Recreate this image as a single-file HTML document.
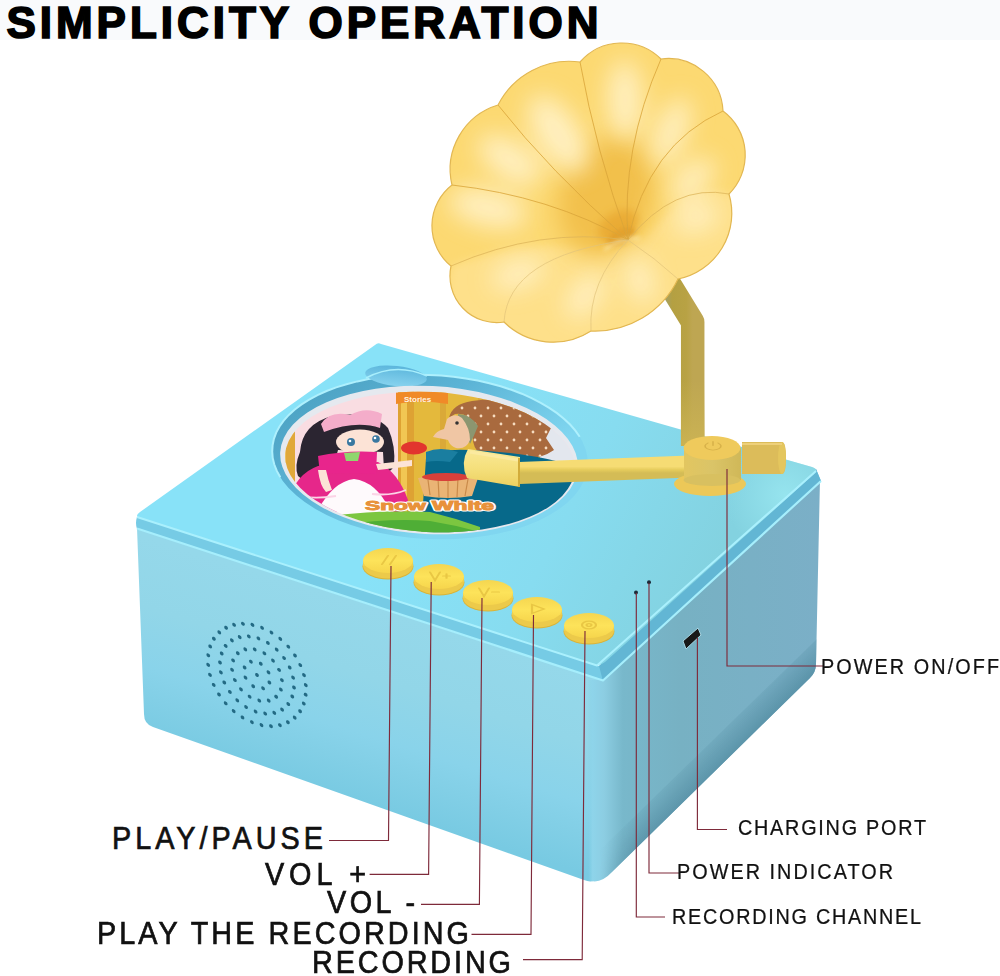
<!DOCTYPE html>
<html><head><meta charset="utf-8"><style>
html,body{margin:0;padding:0;background:#fff;}
body{width:1000px;height:976px;overflow:hidden;position:relative;font-family:"Liberation Sans",sans-serif;}
svg{position:absolute;left:0;top:0;}
</style></head><body>
<svg width="1000" height="976" viewBox="0 0 1000 976">
<defs>
 <radialGradient id="hornG" cx="600" cy="200" r="190" gradientUnits="userSpaceOnUse">
  <stop offset="0" stop-color="#eab23a"/>
  <stop offset="0.3" stop-color="#f4c650"/>
  <stop offset="0.7" stop-color="#f8d769"/>
  <stop offset="1" stop-color="#f7d464"/>
 </radialGradient>
 <radialGradient id="lipG" cx="610" cy="285" r="130" gradientUnits="userSpaceOnUse">
  <stop offset="0" stop-color="#fdf0c2"/>
  <stop offset="0.45" stop-color="#fbe5a0"/>
  <stop offset="0.8" stop-color="#f8d875"/>
  <stop offset="1" stop-color="#f7d466"/>
 </radialGradient>
 <radialGradient id="hiG" cx="0.5" cy="0.5" r="0.5">
  <stop offset="0" stop-color="#fff6d4" stop-opacity="0.9"/>
  <stop offset="1" stop-color="#fff6d4" stop-opacity="0"/>
 </radialGradient>
 <linearGradient id="topG" x1="420" y1="470" x2="690" y2="610" gradientUnits="userSpaceOnUse">
  <stop offset="0" stop-color="#88e2f8"/>
  <stop offset="0.5" stop-color="#87dcf0"/>
  <stop offset="1" stop-color="#83d2e0"/>
 </linearGradient>
 <radialGradient id="topHi" cx="785" cy="495" r="60" gradientUnits="userSpaceOnUse">
  <stop offset="0" stop-color="#96e4ee"/>
  <stop offset="1" stop-color="#96e4ee" stop-opacity="0"/>
 </radialGradient>
 <linearGradient id="frontG" x1="0" y1="492" x2="0" y2="692" gradientUnits="userSpaceOnUse" gradientTransform="skewY(17.22)">
  <stop offset="0" stop-color="#95d8ea"/>
  <stop offset="0.35" stop-color="#92d6e8"/>
  <stop offset="0.65" stop-color="#89d3ea"/>
  <stop offset="0.8" stop-color="#82cfe6"/>
  <stop offset="1" stop-color="#78cae2"/>
 </linearGradient>
 <linearGradient id="rightG" x1="588" y1="0" x2="820" y2="0" gradientUnits="userSpaceOnUse">
  <stop offset="0" stop-color="#86cfe6" stop-opacity="0"/>
  <stop offset="0.02" stop-color="#8ed4ea"/>
  <stop offset="0.07" stop-color="#8ccde2"/>
  <stop offset="0.15" stop-color="#78b8cb"/>
  <stop offset="0.4" stop-color="#77b1c3"/>
  <stop offset="1" stop-color="#7bafc7"/>
 </linearGradient>
 <linearGradient id="btnG" x1="0" y1="0" x2="0" y2="1">
  <stop offset="0" stop-color="#f5d650"/>
  <stop offset="0.5" stop-color="#fde35a"/>
  <stop offset="1" stop-color="#f6d54c"/>
 </linearGradient>
 <linearGradient id="armG" x1="0" y1="0" x2="0" y2="1">
  <stop offset="0" stop-color="#f6dc74"/>
  <stop offset="0.5" stop-color="#e6cc5c"/>
  <stop offset="1" stop-color="#d4bc56"/>
 </linearGradient>
 <linearGradient id="headG" x1="0" y1="449" x2="0" y2="487" gradientUnits="userSpaceOnUse">
  <stop offset="0" stop-color="#f9e896"/>
  <stop offset="0.5" stop-color="#f5e07c"/>
  <stop offset="1" stop-color="#ecd060"/>
 </linearGradient>
 <linearGradient id="stemG" x1="0" y1="0" x2="1" y2="0">
  <stop offset="0" stop-color="#a8a05c"/>
  <stop offset="0.2" stop-color="#b4a042"/>
  <stop offset="0.75" stop-color="#b8a244"/>
  <stop offset="1" stop-color="#bea652"/>
 </linearGradient>
 <linearGradient id="stemV" x1="0" y1="380" x2="0" y2="446" gradientUnits="userSpaceOnUse">
  <stop offset="0" stop-color="#cab452" stop-opacity="0"/>
  <stop offset="1" stop-color="#cdb454" stop-opacity="0.9"/>
 </linearGradient>
 <linearGradient id="cylG" x1="0" y1="0" x2="1" y2="0">
  <stop offset="0" stop-color="#e2c660"/>
  <stop offset="0.5" stop-color="#dac468"/>
  <stop offset="1" stop-color="#d0b858"/>
 </linearGradient>
 <linearGradient id="recG" x1="300" y1="380" x2="420" y2="540" gradientUnits="userSpaceOnUse">
  <stop offset="0" stop-color="#4a9fc0"/>
  <stop offset="0.5" stop-color="#5cb4d6"/>
  <stop offset="1" stop-color="#80d6f0"/>
 </linearGradient>
 <linearGradient id="notchG" x1="0" y1="0" x2="0" y2="1">
  <stop offset="0" stop-color="#5cb6dc"/>
  <stop offset="1" stop-color="#86d2ee"/>
 </linearGradient>
 <clipPath id="rfClip"><path d="M588,676 L604,676 L820,478 L816,664 Q816,672 810,678 L612,872 Q600,885 588,880 Z"/></clipPath>
 <linearGradient id="rbShadow" x1="708" y1="777" x2="687" y2="756" gradientUnits="userSpaceOnUse">
  <stop offset="0" stop-color="#5a93a8" stop-opacity="0.9"/>
  <stop offset="1" stop-color="#5a93a8" stop-opacity="0"/>
 </linearGradient>
 <linearGradient id="rbMaskG" x1="600" y1="0" x2="640" y2="0" gradientUnits="userSpaceOnUse">
  <stop offset="0" stop-color="#fff" stop-opacity="0"/>
  <stop offset="1" stop-color="#fff" stop-opacity="1"/>
 </linearGradient>
 <mask id="rbMask" maskUnits="userSpaceOnUse" x="0" y="0" width="1000" height="976"><rect x="0" y="0" width="1000" height="976" fill="url(#rbMaskG)"/></mask>
 <clipPath id="hornClip"><path d="M580,62 A55.7,55.7 0 0,1 661,59 A54.9,54.9 0 0,1 723,111 A54.8,54.8 0 0,1 729,194 A67.2,67.2 0 0,1 678,279 A92.1,92.1 0 0,1 591,331 A69.8,69.8 0 0,1 504,322 A46.7,46.7 0 0,1 451,266 A51.7,51.7 0 0,1 452,185 A67.3,67.3 0 0,1 498,105 A80.0,80.0 0 0,1 580,62 Z"/></clipPath>
 <filter id="b2" x="-50%" y="-50%" width="200%" height="200%"><feGaussianBlur stdDeviation="2"/></filter>
 <filter id="b4" x="-20%" y="-20%" width="140%" height="140%"><feGaussianBlur stdDeviation="4"/></filter>
 <filter id="b5" x="-50%" y="-50%" width="200%" height="200%"><feGaussianBlur stdDeviation="5"/></filter>
 <filter id="b6" x="-50%" y="-50%" width="200%" height="200%"><feGaussianBlur stdDeviation="6"/></filter>
 <filter id="b8" x="-50%" y="-50%" width="200%" height="200%"><feGaussianBlur stdDeviation="7"/></filter>
 <filter id="b10" x="-50%" y="-50%" width="200%" height="200%"><feGaussianBlur stdDeviation="12"/></filter>
 <clipPath id="picClip"><ellipse cx="430" cy="462" rx="145" ry="70" transform="rotate(3 430 462)"/></clipPath>
</defs>
<rect x="0" y="0" width="1000" height="40" fill="#f9fafc"/>
<text x="6.5" y="37.5" font-family="Liberation Sans" font-weight="bold" font-size="44" textLength="592" lengthAdjust="spacing" fill="#000" stroke="#000" stroke-width="1.7">SIMPLICITY OPERATION</text>

<!-- ===== box ===== -->
<!-- base front face -->
<path d="M137,528 L604,680 L601,866 Q599,886 584,880 L153,727 Q144,724 144,714 Z" fill="url(#frontG)"/>
<!-- base right face -->
<path d="M588,680 L604,680 L820,479 L816,664 Q816,672 810,678 L612,872 Q600,885 588,880 Z" fill="url(#rightG)"/>
<g clip-path="url(#rfClip)" mask="url(#rbMask)"><path d="M596,888 L820,670 L820,636 L596,854 Z" fill="url(#rbShadow)"/></g>
<!-- lid band -->
<path d="M137,517 L599,666 L816,469 L821,481 L603,681 L137,529 Q135,523 137,517 Z" fill="#76cbe5"/>
<path d="M599,666 L816,469 L821,481 L603,681 Z" fill="#62b6d4"/>
<path d="M137,528.5 L603,680.5 L821,481" fill="none" stroke="#a6eefc" stroke-width="2.2" stroke-linejoin="round"/>
<!-- lid top -->
<path d="M381,344 Q378,342 375,345 L140,512 Q134,516 140,518 L593,664 Q599,667 605,662 L814,474 Q819,469 812,467 Z" fill="url(#topG)"/>
<path d="M381,344 Q378,342 375,345 L140,512 Q134,516 140,518 L593,664 Q599,667 605,662 L814,474 Q819,469 812,467 Z" fill="url(#topHi)"/>
<path d="M137,517 L597,665.5 L816,471" fill="none" stroke="#aaf0fd" stroke-width="2" stroke-linejoin="round"/>

<!-- speaker -->
<g transform="translate(257,675) matrix(1,0.3,0,1,0,0)" fill="#236a84"><circle cx="0.0" cy="0.0" r="1.9"/><circle cx="12.4" cy="3.8" r="1.9"/><circle cx="6.1" cy="11.5" r="1.9"/><circle cx="-3.8" cy="12.4" r="1.9"/><circle cx="-11.5" cy="6.1" r="1.9"/><circle cx="-12.4" cy="-3.8" r="1.9"/><circle cx="-6.1" cy="-11.5" r="1.9"/><circle cx="3.8" cy="-12.4" r="1.9"/><circle cx="11.5" cy="-6.1" r="1.9"/><circle cx="23.9" cy="7.4" r="1.9"/><circle cx="19.2" cy="16.0" r="1.9"/><circle cx="11.7" cy="22.1" r="1.9"/><circle cx="2.3" cy="24.9" r="1.9"/><circle cx="-7.4" cy="23.9" r="1.9"/><circle cx="-16.0" cy="19.2" r="1.9"/><circle cx="-22.1" cy="11.7" r="1.9"/><circle cx="-24.9" cy="2.3" r="1.9"/><circle cx="-23.9" cy="-7.4" r="1.9"/><circle cx="-19.2" cy="-16.0" r="1.9"/><circle cx="-11.7" cy="-22.1" r="1.9"/><circle cx="-2.3" cy="-24.9" r="1.9"/><circle cx="7.4" cy="-23.9" r="1.9"/><circle cx="16.0" cy="-19.2" r="1.9"/><circle cx="22.1" cy="-11.7" r="1.9"/><circle cx="24.9" cy="-2.3" r="1.9"/><circle cx="35.3" cy="10.9" r="1.9"/><circle cx="31.3" cy="19.7" r="1.9"/><circle cx="25.1" cy="27.1" r="1.9"/><circle cx="17.3" cy="32.7" r="1.9"/><circle cx="8.2" cy="36.1" r="1.9"/><circle cx="-1.4" cy="37.0" r="1.9"/><circle cx="-10.9" cy="35.3" r="1.9"/><circle cx="-19.7" cy="31.3" r="1.9"/><circle cx="-27.1" cy="25.1" r="1.9"/><circle cx="-32.7" cy="17.3" r="1.9"/><circle cx="-36.1" cy="8.2" r="1.9"/><circle cx="-37.0" cy="-1.4" r="1.9"/><circle cx="-35.3" cy="-10.9" r="1.9"/><circle cx="-31.3" cy="-19.7" r="1.9"/><circle cx="-25.1" cy="-27.1" r="1.9"/><circle cx="-17.3" cy="-32.7" r="1.9"/><circle cx="-8.2" cy="-36.1" r="1.9"/><circle cx="1.4" cy="-37.0" r="1.9"/><circle cx="10.9" cy="-35.3" r="1.9"/><circle cx="19.7" cy="-31.3" r="1.9"/><circle cx="27.1" cy="-25.1" r="1.9"/><circle cx="32.7" cy="-17.3" r="1.9"/><circle cx="36.1" cy="-8.2" r="1.9"/><circle cx="37.0" cy="1.4" r="1.9"/><circle cx="46.8" cy="14.5" r="1.9"/><circle cx="43.1" cy="23.3" r="1.9"/><circle cx="37.7" cy="31.3" r="1.9"/><circle cx="30.9" cy="38.0" r="1.9"/><circle cx="22.9" cy="43.3" r="1.9"/><circle cx="14.0" cy="47.0" r="1.9"/><circle cx="4.5" cy="48.8" r="1.9"/><circle cx="-5.1" cy="48.7" r="1.9"/><circle cx="-14.5" cy="46.8" r="1.9"/><circle cx="-23.3" cy="43.1" r="1.9"/><circle cx="-31.3" cy="37.7" r="1.9"/><circle cx="-38.0" cy="30.9" r="1.9"/><circle cx="-43.3" cy="22.9" r="1.9"/><circle cx="-47.0" cy="14.0" r="1.9"/><circle cx="-48.8" cy="4.5" r="1.9"/><circle cx="-48.7" cy="-5.1" r="1.9"/><circle cx="-46.8" cy="-14.5" r="1.9"/><circle cx="-43.1" cy="-23.3" r="1.9"/><circle cx="-37.7" cy="-31.3" r="1.9"/><circle cx="-30.9" cy="-38.0" r="1.9"/><circle cx="-22.9" cy="-43.3" r="1.9"/><circle cx="-14.0" cy="-47.0" r="1.9"/><circle cx="-4.5" cy="-48.8" r="1.9"/><circle cx="5.1" cy="-48.7" r="1.9"/><circle cx="14.5" cy="-46.8" r="1.9"/><circle cx="23.3" cy="-43.1" r="1.9"/><circle cx="31.3" cy="-37.7" r="1.9"/><circle cx="38.0" cy="-30.9" r="1.9"/><circle cx="43.3" cy="-22.9" r="1.9"/><circle cx="47.0" cy="-14.0" r="1.9"/><circle cx="48.8" cy="-4.5" r="1.9"/><circle cx="48.7" cy="5.1" r="1.9"/></g>

<!-- disc recess -->
<ellipse cx="430" cy="457" rx="158" ry="82" transform="rotate(3 430 457)" fill="url(#recG)"/>
<path d="M280.3,477.2 L276.8,470.9 L274.3,464.5 L272.7,458.1 L272.2,451.6 L272.6,445.2 L273.9,438.8 L276.2,432.6 L279.5,426.5 L283.7,420.6 L288.8,414.9 L294.8,409.5 L301.6,404.4 L309.2,399.6 L317.5,395.1 L326.6,391.0 L336.2,387.4 L346.5,384.2 L357.3,381.4 L368.5,379.1 L380.1,377.2 L392.0,375.9 L404.1,375.0 L416.4,374.7 L428.8,374.9 L441.2,375.6 L453.5,376.7 L465.7,378.4 L477.6,380.6 L489.3,383.2 L500.6,386.3 L511.4,389.8 L521.8,393.7 L531.6,398.1 L540.7,402.8 L549.2,407.8 L557.0,413.1 L563.9,418.7 L570.1,424.5 L575.4,430.6 L579.7,436.8" fill="none" stroke="#aef0fd" stroke-width="2"/>
<!-- thumb notch -->
<ellipse cx="396" cy="376" rx="31" ry="10" transform="rotate(6 396 376)" fill="url(#notchG)"/>
<path d="M366,378 Q396,362 427,376" fill="none" stroke="#a8eefc" stroke-width="1.5"/>
<ellipse cx="429" cy="460" rx="149" ry="74" transform="rotate(3 429 460)" fill="#e5e9ef"/>
<g clip-path="url(#picClip)">
 <rect x="270" y="370" width="330" height="180" fill="#f9dde2"/>
 <path d="M530,390 L600,390 L600,470 L560,468 Q545,462 538,455 Z" fill="#e3e7ee"/>
 <!-- door interior gold -->
 <path d="M398,388 Q470,382 540,396 L540,505 L398,505 Z" fill="#e4b93c"/>
 <rect x="440" y="392" width="6" height="60" fill="#d6a236" opacity="0.7"/>
 <rect x="478" y="392" width="5" height="40" fill="#d6a236" opacity="0.6"/>
 <rect x="512" y="395" width="6" height="45" fill="#d6a236" opacity="0.6"/>
 <rect x="398" y="388" width="16" height="125" fill="#dea233"/>
 <rect x="401" y="388" width="6" height="125" fill="#f1c653"/>
 <rect x="276" y="420" width="19" height="90" fill="#e0a83a"/>
 <rect x="279" y="420" width="7" height="90" fill="#f0c45a"/>
 <path d="M396,392 Q420,386 448,392 L448,404 Q420,399 396,404 Z" fill="#f08a28"/>
 <text x="404" y="401.5" font-family="Liberation Sans" font-weight="bold" font-size="8" fill="#fff4e0">Stories</text>
 <!-- witch hood -->
 <clipPath id="hoodClip"><path d="M449,418 Q452,404 472,401 Q502,397 530,404 Q548,411 551,428 L546,438 L554,450 Q540,460 520,458 Q500,460 480,454 Q468,442 476,426 Q468,412 455,414 Z"/></clipPath>
 <path d="M449,418 Q452,404 472,401 Q502,397 530,404 Q548,411 551,428 L546,438 L554,450 Q540,460 520,458 Q500,460 480,454 Q468,442 476,426 Q468,412 455,414 Z" fill="#a96a3e"/>
 <g fill="#f6dcc0" clip-path="url(#hoodClip)"><circle cx="462" cy="408" r="1.4"/><circle cx="475" cy="408" r="1.4"/><circle cx="488" cy="408" r="1.4"/><circle cx="501" cy="408" r="1.4"/><circle cx="514" cy="408" r="1.4"/><circle cx="527" cy="408" r="1.4"/><circle cx="540" cy="408" r="1.4"/><circle cx="468" cy="416" r="1.4"/><circle cx="481" cy="416" r="1.4"/><circle cx="494" cy="416" r="1.4"/><circle cx="507" cy="416" r="1.4"/><circle cx="520" cy="416" r="1.4"/><circle cx="533" cy="416" r="1.4"/><circle cx="546" cy="416" r="1.4"/><circle cx="462" cy="424" r="1.4"/><circle cx="475" cy="424" r="1.4"/><circle cx="488" cy="424" r="1.4"/><circle cx="501" cy="424" r="1.4"/><circle cx="514" cy="424" r="1.4"/><circle cx="527" cy="424" r="1.4"/><circle cx="540" cy="424" r="1.4"/><circle cx="468" cy="432" r="1.4"/><circle cx="481" cy="432" r="1.4"/><circle cx="494" cy="432" r="1.4"/><circle cx="507" cy="432" r="1.4"/><circle cx="520" cy="432" r="1.4"/><circle cx="533" cy="432" r="1.4"/><circle cx="546" cy="432" r="1.4"/><circle cx="462" cy="440" r="1.4"/><circle cx="475" cy="440" r="1.4"/><circle cx="488" cy="440" r="1.4"/><circle cx="501" cy="440" r="1.4"/><circle cx="514" cy="440" r="1.4"/><circle cx="527" cy="440" r="1.4"/><circle cx="540" cy="440" r="1.4"/><circle cx="468" cy="448" r="1.4"/><circle cx="481" cy="448" r="1.4"/><circle cx="494" cy="448" r="1.4"/><circle cx="507" cy="448" r="1.4"/><circle cx="520" cy="448" r="1.4"/><circle cx="533" cy="448" r="1.4"/><circle cx="546" cy="448" r="1.4"/><circle cx="462" cy="456" r="1.4"/><circle cx="475" cy="456" r="1.4"/><circle cx="488" cy="456" r="1.4"/><circle cx="501" cy="456" r="1.4"/><circle cx="514" cy="456" r="1.4"/><circle cx="527" cy="456" r="1.4"/><circle cx="540" cy="456" r="1.4"/></g>
 <!-- hair strands -->
 <path d="M458,414 Q470,414 478,426 Q474,436 470,444 Q466,430 458,420 Z" fill="#8c9670"/>
 <!-- witch face -->
 <path d="M447,419 Q455,412 462,418 Q470,428 470,440 Q466,450 456,448 Q450,446 448,440 L433,437 Q436,431 444,429 Z" fill="#f0c6a4"/>
 <circle cx="457" cy="423" r="1.8" fill="#333"/>
 <!-- witch dress -->
 <path d="M426,458 Q440,448 470,450 Q520,452 560,462 L600,466 L600,550 L420,550 Z" fill="#07698a"/>
 <path d="M426,452 Q440,446 458,452 L450,462 Q436,460 426,462 Z" fill="#1a7ea0"/>
 <!-- basket -->
 <path d="M418,478 Q448,472 478,478 L472,496 Q448,500 424,496 Z" fill="#eab475"/>
 <g stroke="#c98a4a" stroke-width="1.2"><path d="M428,480 L430,495 M438,478 L439,497 M448,478 L448,498 M458,478 L457,497 M468,479 L465,496"/></g>
 <ellipse cx="446" cy="477" rx="24" ry="4" fill="#d8403a"/>
 <!-- apple -->
 <ellipse cx="414" cy="448" rx="13" ry="6.5" fill="#e2352e"/>
 <!-- girl hair -->
 <path d="M300,452 Q302,424 332,416 Q372,410 388,428 Q396,446 394,466 Q390,474 384,470 L383,452 L338,450 Q334,470 322,480 Q306,484 298,476 Q294,466 300,452 Z" fill="#2b2531"/>
 <!-- bow -->
 <path d="M321,424 Q330,410 350,415 Q366,406 382,414 L380,428 Q356,420 324,432 Z" fill="#f4adca"/>
 <!-- face -->
 <ellipse cx="360" cy="442" rx="24" ry="12.5" fill="#fce3d6"/>
 <circle cx="351" cy="442" r="4" fill="#3a78a0"/>
 <circle cx="376" cy="439" r="3.8" fill="#3a78a0"/>
 <circle cx="350" cy="441" r="1.3" fill="#fff"/>
 <circle cx="375" cy="438" r="1.3" fill="#fff"/>
 <!-- skirt -->
 <path d="M289,500 Q296,474 318,466 L378,462 Q398,472 408,500 L404,512 L292,512 Z" fill="#e6278a"/>
 <!-- bodice -->
 <path d="M318,456 Q346,450 377,452 L376,474 Q346,472 320,474 Z" fill="#e8258c"/>
 <path d="M344,453 L360,452 L358,461 L346,461 Z" fill="#8fd66e"/>
 <path d="M313,520 Q330,482 354,479 Q380,482 394,520 Z" fill="#fefafc"/>
 <path d="M290,494 Q310,500 336,496 M372,494 Q392,496 406,490" stroke="#fbd4e6" stroke-width="1.8" fill="none"/>
 <!-- arms -->
 <path d="M318,470 Q320,486 326,492 L332,490 Q328,480 326,470 Z" fill="#fce3d6"/>
 <path d="M376,464 Q396,462 412,460 L412,466 Q396,468 378,470 Z" fill="#fce3d6"/>
 <!-- grass -->
 <path d="M320,517 Q380,509 430,512 Q455,518 480,527 L480,548 L320,548 Z" fill="#7cc640"/>
 <path d="M340,525 Q390,518 430,521 Q455,525 480,532 L480,548 L340,548 Z" fill="#4fae36"/>
 <!-- title text -->
 <text x="365" y="509.5" font-family="Liberation Sans" font-weight="bold" font-size="12.5" fill="#fff" stroke="#fff" stroke-width="3" stroke-linejoin="round" textLength="129" lengthAdjust="spacingAndGlyphs">Snow White</text>
 <text x="365" y="509.5" font-family="Liberation Sans" font-weight="bold" font-size="12.5" fill="#e8923a" stroke="#e8923a" stroke-width="0.9" textLength="129" lengthAdjust="spacingAndGlyphs">Snow White</text>
</g>

<!-- buttons -->
<g>
 <ellipse cx="388" cy="566.5" rx="25.5" ry="13" fill="#d9b43a"/>
 <ellipse cx="388" cy="566" rx="25" ry="12.5" fill="#ecca4a"/>
 <rect x="363" y="560.5" width="50" height="5.5" fill="#efcf4e"/>
 <ellipse cx="388" cy="560.5" rx="25" ry="12.5" fill="url(#btnG)"/>
 <g transform="translate(388,560) scale(1,0.55)" fill="none" stroke="#e9c744" stroke-width="2.2" stroke-linecap="round"><path d="M-6,8 L0,-8 M2,8 L8,-8"/></g>
</g><g>
 <ellipse cx="439" cy="582.5" rx="25.5" ry="13" fill="#d9b43a"/>
 <ellipse cx="439" cy="582" rx="25" ry="12.5" fill="#ecca4a"/>
 <rect x="414" y="576.5" width="50" height="5.5" fill="#efcf4e"/>
 <ellipse cx="439" cy="576.5" rx="25" ry="12.5" fill="url(#btnG)"/>
 <g transform="translate(439,576) scale(1,0.55)" fill="none" stroke="#e9c744" stroke-width="2.2" stroke-linecap="round"><path d="M-9,-7 L-4,8 L1,-7 M4,0 H11 M7.5,-4 V4"/></g>
</g><g>
 <ellipse cx="488" cy="598.5" rx="25.5" ry="13" fill="#d9b43a"/>
 <ellipse cx="488" cy="598" rx="25" ry="12.5" fill="#ecca4a"/>
 <rect x="463" y="592.5" width="50" height="5.5" fill="#efcf4e"/>
 <ellipse cx="488" cy="592.5" rx="25" ry="12.5" fill="url(#btnG)"/>
 <g transform="translate(488,592) scale(1,0.55)" fill="none" stroke="#e9c744" stroke-width="2.2" stroke-linecap="round"><path d="M-9,-7 L-4,8 L1,-7 M4,0 H11"/></g>
</g><g>
 <ellipse cx="537" cy="615.5" rx="25.5" ry="13" fill="#d9b43a"/>
 <ellipse cx="537" cy="615" rx="25" ry="12.5" fill="#ecca4a"/>
 <rect x="512" y="609.5" width="50" height="5.5" fill="#efcf4e"/>
 <ellipse cx="537" cy="609.5" rx="25" ry="12.5" fill="url(#btnG)"/>
 <g transform="translate(537,609) scale(1,0.55)" fill="none" stroke="#e9c744" stroke-width="2.2" stroke-linecap="round"><path d="M-5,-8 L7,0 L-5,8 Z"/></g>
</g><g>
 <ellipse cx="589" cy="631.5" rx="25.5" ry="13" fill="#d9b43a"/>
 <ellipse cx="589" cy="631" rx="25" ry="12.5" fill="#ecca4a"/>
 <rect x="564" y="625.5" width="50" height="5.5" fill="#efcf4e"/>
 <ellipse cx="589" cy="625.5" rx="25" ry="12.5" fill="url(#btnG)"/>
 <g transform="translate(589,625) scale(1,0.55)" fill="none" stroke="#e9c744" stroke-width="2.2" stroke-linecap="round"><circle r="7"/><circle r="2.5"/></g>
</g>

<!-- indicator dots & port -->
<circle cx="636" cy="592.5" r="2" fill="#1b2a38"/>
<circle cx="649" cy="582.3" r="2" fill="#1b2a38"/>
<path d="M683,641 L698,628 L701,635 L686,649 Z" fill="#181818" stroke="#a8d8e6" stroke-width="1" stroke-linejoin="round"/>

<!-- ===== gramophone ===== -->
<!-- horn stem -->
<path d="M667,280 L692.7,322 L692.7,446" fill="none" stroke="url(#stemG)" stroke-width="23.5" stroke-linejoin="round"/>
<path d="M692.7,380 L692.7,446" fill="none" stroke="url(#stemV)" stroke-width="23.5"/>
<!-- horn -->
<path d="M580,62 A55.7,55.7 0 0,1 661,59 A54.9,54.9 0 0,1 723,111 A54.8,54.8 0 0,1 729,194 A67.2,67.2 0 0,1 678,279 A92.1,92.1 0 0,1 591,331 A69.8,69.8 0 0,1 504,322 A46.7,46.7 0 0,1 451,266 A51.7,51.7 0 0,1 452,185 A67.3,67.3 0 0,1 498,105 A80.0,80.0 0 0,1 580,62 Z" fill="#fcd972"/>
<g clip-path="url(#hornClip)">
 <!-- pale outer lip -->
 <path d="M451,266 Q537,236 608,250 Q628,237 645,238 Q691,179 729,194 L760,190 L760,360 L440,360 Z" fill="#fee08a" filter="url(#b4)"/>
 <!-- inner gold -->
 <ellipse cx="606" cy="196" rx="46" ry="62" transform="rotate(20 606 196)" fill="#f2c04c" filter="url(#b10)"/>
 <ellipse cx="618" cy="226" rx="22" ry="14" transform="rotate(-30 618 226)" fill="#eaac34" filter="url(#b5)"/>
 <g fill="#fff1c6" filter="url(#b10)" opacity="0.95"><ellipse cx="625" cy="100" rx="40" ry="17" transform="rotate(-91.2 625 100)"/><ellipse cx="671" cy="132" rx="36" ry="15" transform="rotate(-68.3 671 132)"/><ellipse cx="692" cy="180" rx="28" ry="14" transform="rotate(-43.2 692 180)"/><ellipse cx="697" cy="218" rx="24" ry="13" transform="rotate(-17.7 697 218)"/><ellipse cx="558" cy="134" rx="44" ry="21" transform="rotate(-123.4 558 134)"/><ellipse cx="510" cy="160" rx="36" ry="18" transform="rotate(-145.9 510 160)"/><ellipse cx="488" cy="208" rx="40" ry="18" transform="rotate(-167.1 488 208)"/><ellipse cx="518" cy="274" rx="28" ry="14" transform="rotate(162.8 518 274)"/><ellipse cx="585" cy="296" rx="26" ry="14" transform="rotate(127.5 585 296)"/><ellipse cx="640" cy="280" rx="24" ry="13" transform="rotate(73.3 640 280)"/></g>
 <ellipse cx="621" cy="236" rx="15" ry="7" transform="rotate(-28 621 236)" fill="#e2a12e" filter="url(#b2)"/>
 <path d="M604,250 Q620,238 640,238" fill="none" stroke="#fbe6a6" stroke-width="2.5" filter="url(#b2)"/>
 <g fill="none" stroke="#d9a53a" stroke-width="0.9" opacity="0.9"><path d="M628,240 Q596.0,151.0 580,62"/><path d="M628,240 Q621.0,150.0 661,59"/><path d="M628,240 Q648.0,145.0 723,111"/><path d="M628,240 Q550.0,196.0 452,185"/><path d="M628,240 Q549.0,170.0 498,105"/></g>
 <g fill="none" stroke="#dcb45a" stroke-width="0.9" opacity="0.85"><path d="M628,240 Q674.0,183.0 729,194"/><path d="M628,240 Q540.0,227.0 451,266"/></g>
 <g fill="none" stroke="#e2c47c" stroke-width="0.9" opacity="0.8"><path d="M628,240 Q655.0,258.0 678,279"/><path d="M628,240 Q588.0,282.0 591,331"/><path d="M628,240 Q508.0,256.0 504,322"/></g>
</g>
<path d="M580,62 A55.7,55.7 0 0,1 661,59 A54.9,54.9 0 0,1 723,111 A54.8,54.8 0 0,1 729,194 A67.2,67.2 0 0,1 678,279 A92.1,92.1 0 0,1 591,331 A69.8,69.8 0 0,1 504,322 A46.7,46.7 0 0,1 451,266 A51.7,51.7 0 0,1 452,185 A67.3,67.3 0 0,1 498,105 A80.0,80.0 0 0,1 580,62 Z" fill="none" stroke="#e2b752" stroke-width="1.2"/>

<!-- tone arm -->
<path d="M519,473 L690,466.5" stroke="url(#armG)" stroke-width="22" fill="none"/>
<path d="M468,449 L520,457 L520,487 L467,478 Q460,463 468,449 Z" fill="url(#headG)"/>
<path d="M470,452 L518,460" stroke="#fbeaa0" stroke-width="3"/>
<path d="M519,458 L519,487" stroke="#d2ac3a" stroke-width="2"/>
<!-- base -->
<ellipse cx="710" cy="484" rx="36" ry="12" fill="#ecc858"/>
<rect x="684" y="448" width="57" height="32" fill="url(#cylG)"/>
<ellipse cx="712" cy="480" rx="28.5" ry="6" fill="#d8c060"/>
<ellipse cx="712" cy="448" rx="28.5" ry="12" fill="#efca5c"/>
<g transform="translate(713,446) scale(1,0.5)" fill="none" stroke="#d8b24a" stroke-width="1.6" stroke-linecap="round"><path d="M-5,-6 A8,8 0 1,0 5,-6"/><path d="M0,-9 V-1"/></g>
<path d="M742,442 L782,442 Q786,442 786,458 Q786,474 782,474 L742,474 Z" fill="#dcbc5a"/>
<ellipse cx="782" cy="458" rx="4" ry="16" fill="#e4c65e"/>
<path d="M742,444 L782,444" stroke="#eed07a" stroke-width="2"/>

<!-- ===== callout lines ===== -->
<g stroke="#7e2a3a" stroke-width="1.15" fill="none">
 <path d="M391,566 L388.5,840.5 H329"/>
 <path d="M431.2,582 L428.6,874.4 H369.6"/>
 <path d="M482,598 L479.4,904.4 H421"/>
 <path d="M533.5,615 L531,934.4 H471.5"/>
 <path d="M585,631 L582.2,959.6 H523"/>
 <path d="M636.3,593 V917 H665"/>
 <path d="M649,583 V873 H679"/>
 <path d="M697.4,638 V829.5 H727"/>
 <path d="M727,469 V666 H823"/>
</g>
<g class="lbl" fill="#111" stroke="#111" stroke-width="0.7" font-family="Liberation Sans" font-size="32">
 <text transform="translate(112.0,848.5) scale(0.9,1)" x="0" y="0" textLength="234.4" lengthAdjust="spacing">PLAY/PAUSE</text>
 <text transform="translate(265.0,884.5) scale(0.9,1)" x="0" y="0" textLength="112.2" lengthAdjust="spacing">VOL +</text>
 <text transform="translate(327.0,913.0) scale(0.9,1)" x="0" y="0" textLength="97.8" lengthAdjust="spacing">VOL -</text>
 <text transform="translate(97.0,943.5) scale(0.9,1)" x="0" y="0" textLength="413.3" lengthAdjust="spacing">PLAY THE RECORDING</text>
 <text transform="translate(312.0,973.0) scale(0.9,1)" x="0" y="0" textLength="221.1" lengthAdjust="spacing">RECORDING</text>
</g>
<g class="lbl" fill="#111" stroke="#111" stroke-width="0.25" font-family="Liberation Sans" font-size="22">
 <text transform="translate(821.0,674.0) scale(0.9,1)" x="0" y="0" textLength="197.8" lengthAdjust="spacing">POWER ON/OFF</text>
 <text transform="translate(738.0,835.0) scale(0.9,1)" x="0" y="0" textLength="208.9" lengthAdjust="spacing">CHARGING PORT</text>
 <text transform="translate(677.0,879.0) scale(0.9,1)" x="0" y="0" textLength="240.0" lengthAdjust="spacing">POWER INDICATOR</text>
 <text transform="translate(672.0,924.0) scale(0.9,1)" x="0" y="0" textLength="276.7" lengthAdjust="spacing">RECORDING CHANNEL</text>
</g>
</svg>
</body></html>
